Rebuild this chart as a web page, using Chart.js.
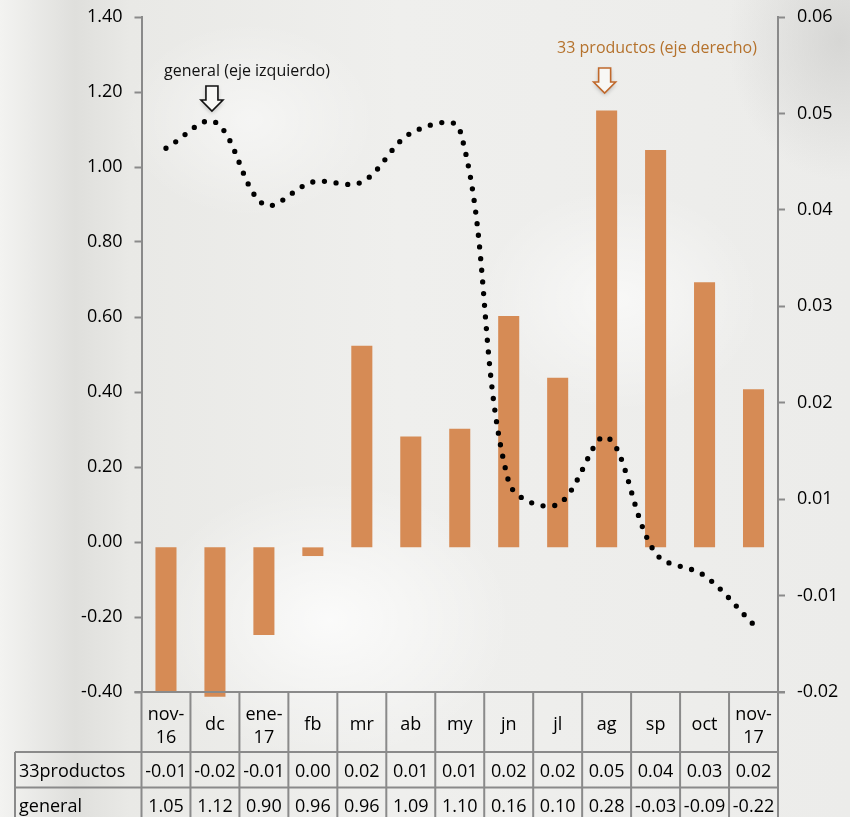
<!DOCTYPE html>
<html>
<head>
<meta charset="utf-8">
<script src="https://cdn.jsdelivr.net/npm/chart.js@4"></script>
<style>
html, body { margin: 0; padding: 0; }
body {
    width: 850px; height: 817px; overflow: hidden;
    background:
        radial-gradient(ellipse 260px 200px at 330px 620px, rgba(255,255,255,0.75), rgba(255,255,255,0) 70%),
        radial-gradient(ellipse 200px 160px at 620px 300px, rgba(255,255,255,0.6), rgba(255,255,255,0) 70%),
        radial-gradient(ellipse 180px 140px at 250px 120px, rgba(255,255,255,0.5), rgba(255,255,255,0) 70%),
        radial-gradient(ellipse 160px 200px at 840px 40px, rgba(200,200,198,0.6), rgba(200,200,198,0) 70%),
        linear-gradient(90deg, #f3f3f1 0px, #dfdfdc 75px, #e9e9e6 130px, #efefed 400px, #ececea 850px);
}
canvas { display: block; }
</style>
</head>
<body>
<canvas id="grafico" width="850" height="817"></canvas>
<script>
// meses y valores
const categorias = [['nov-', '16'], 'dc', ['ene-', '17'], 'fb', 'mr', 'ab', 'my', 'jn', 'jl', 'ag', 'sp', 'oct', ['nov-', '17']];
const productos = [-0.0149, -0.0155, -0.0091, -0.0009, 0.0209, 0.0115, 0.0123, 0.0240, 0.0176, 0.0453, 0.0412, 0.0275, 0.0164];
const general = [1.05, 1.12, 0.90, 0.96, 0.96, 1.09, 1.10, 0.16, 0.10, 0.28, -0.03, -0.09, -0.22];
const productosTabla = ['-0.01', '-0.02', '-0.01', '0.00', '0.02', '0.01', '0.01', '0.02', '0.02', '0.05', '0.04', '0.03', '0.02'];

const ticksIzq = ['-0.40', '-0.20', '0.00', '0.20', '0.40', '0.60', '0.80', '1.00', '1.20', '1.40'];
const ticksDerValores = [-0.015, -0.005, 0.005, 0.015, 0.025, 0.035, 0.045, 0.055];
const ticksDer = ['-0.02', '-0.01', '0.01', '0.02', '0.03', '0.04', '0.05', '0.06'];

const fuente = '"Open Sans", "DejaVu Sans", sans-serif';
const gris = '#8a8a8a';
const naranja = '#d68b55';

function flecha(ctx, cx, top, color) {
    // flecha hueca hacia abajo
    ctx.save();
    ctx.shadowColor = 'rgba(0,0,0,0.25)';
    ctx.shadowBlur = 4;
    ctx.shadowOffsetY = 2;
    ctx.beginPath();
    ctx.moveTo(cx - 6, top);
    ctx.lineTo(cx + 6, top);
    ctx.lineTo(cx + 6, top + 14);
    ctx.lineTo(cx + 11, top + 14);
    ctx.lineTo(cx, top + 25);
    ctx.lineTo(cx - 11, top + 14);
    ctx.lineTo(cx - 6, top + 14);
    ctx.closePath();
    ctx.fillStyle = '#f7f7f5';
    ctx.fill();
    ctx.shadowColor = 'transparent';
    ctx.lineWidth = 1.6;
    ctx.strokeStyle = color;
    ctx.stroke();
    ctx.restore();
}

const tablaPlugin = {
    id: 'tabla',
    afterDraw(chart) {
        const { ctx, chartArea, scales } = chart;
        const x = scales.x;
        const n = categorias.length;
        const ancho = (chartArea.right - chartArea.left) / n;
        const top = chartArea.bottom;
        const fila1 = top + 60;
        const fila2 = fila1 + 35.5;
        const fondo = 830;

        ctx.save();
        ctx.strokeStyle = gris;
        ctx.lineWidth = 2;
        ctx.beginPath();
        ctx.moveTo(chartArea.left - 7, top);
        ctx.lineTo(chartArea.right + 7, top);
        ctx.moveTo(15, fila1);
        ctx.lineTo(chartArea.right, fila1);
        ctx.moveTo(15, fila2);
        ctx.lineTo(chartArea.right, fila2);
        ctx.moveTo(15, fila1);
        ctx.lineTo(15, fondo);
        for (let i = 0; i <= n; i++) {
            const xi = chartArea.left + i * ancho;
            ctx.moveTo(xi, top);
            ctx.lineTo(xi, fondo);
        }
        ctx.stroke();

        ctx.fillStyle = '#000';
        ctx.font = '18px ' + fuente;
        ctx.textAlign = 'center';
        ctx.textBaseline = 'alphabetic';
        categorias.forEach((c, i) => {
            const cx = x.getPixelForValue(i);
            if (Array.isArray(c)) {
                ctx.fillText(c[0], cx, top + 28);
                ctx.fillText(c[1], cx, top + 51);
            } else {
                ctx.fillText(c, cx, top + 38);
            }
            ctx.fillText(productosTabla[i], cx, fila1 + 25);
            ctx.fillText(general[i].toFixed(2), cx, fila2 + 24);
        });
        ctx.textAlign = 'left';
        ctx.fillText('33productos', 19, fila1 + 25);
        ctx.fillText('general', 19, fila2 + 24);

        // anotaciones
        ctx.font = '16px ' + fuente;
        ctx.textAlign = 'center';
        ctx.fillStyle = '#111';
        ctx.fillText('general (eje izquierdo)', 247, 76);
        ctx.fillStyle = '#b5722c';
        ctx.fillText('33 productos (eje derecho)', 657, 53);
        ctx.restore();

        flecha(ctx, x.getPixelForValue(1) - 3, 86, '#111');
        flecha(ctx, x.getPixelForValue(9) - 2, 68, '#c0692c');
    }
};

const ctx = document.getElementById('grafico').getContext('2d');

const grafico = new Chart(ctx, {
    data: {
        labels: categorias,
        datasets: [
            {
                type: 'line',
                label: 'general',
                data: general,
                yAxisID: 'y',
                borderColor: '#000',
                borderWidth: 5.3,
                borderDash: [0, 11.7],
                borderCapStyle: 'round',
                pointRadius: 0,
                tension: 0.35,
                fill: false,
                order: 0
            },
            {
                type: 'bar',
                label: '33productos',
                data: productos,
                yAxisID: 'y1',
                backgroundColor: naranja,
                borderWidth: 0,
                categoryPercentage: 1,
                barPercentage: 0.43,
                clip: false,
                order: 1
            }
        ]
    },
    options: {
        responsive: false,
        animation: false,
        layout: { padding: { top: 17, bottom: 125, left: 0, right: 0 } },
        plugins: {
            legend: { display: false },
            tooltip: { enabled: false }
        },
        scales: {
            x: {
                display: false
            },
            y: {
                position: 'left',
                min: -0.4,
                max: 1.4,
                ticks: {
                    stepSize: 0.2,
                    color: '#000',
                    font: { family: fuente, size: 18 },
                    padding: 12,
                    callback: (v, i) => ticksIzq[i]
                },
                grid: { drawOnChartArea: false, drawTicks: true, tickLength: 7, tickColor: gris, tickWidth: 2 },
                border: { color: gris, width: 2 },
                afterFit: (s) => { s.width = 141.5; s.paddingTop = 0; s.paddingBottom = 0; }
            },
            y1: {
                position: 'right',
                min: -0.015,
                max: 0.055,
                ticks: {
                    color: '#000',
                    font: { family: fuente, size: 18 },
                    padding: 12,
                    callback: (v, i) => ticksDer[i]
                },
                afterBuildTicks: (s) => { s.ticks = ticksDerValores.map(v => ({ value: v })); },
                grid: { drawOnChartArea: false, drawTicks: true, tickLength: 7, tickColor: gris, tickWidth: 2 },
                border: { color: gris, width: 2 },
                afterFit: (s) => { s.width = 72; s.paddingTop = 0; s.paddingBottom = 0; }
            }
        }
    },
    plugins: [tablaPlugin]
});
</script>
</body>
</html>
